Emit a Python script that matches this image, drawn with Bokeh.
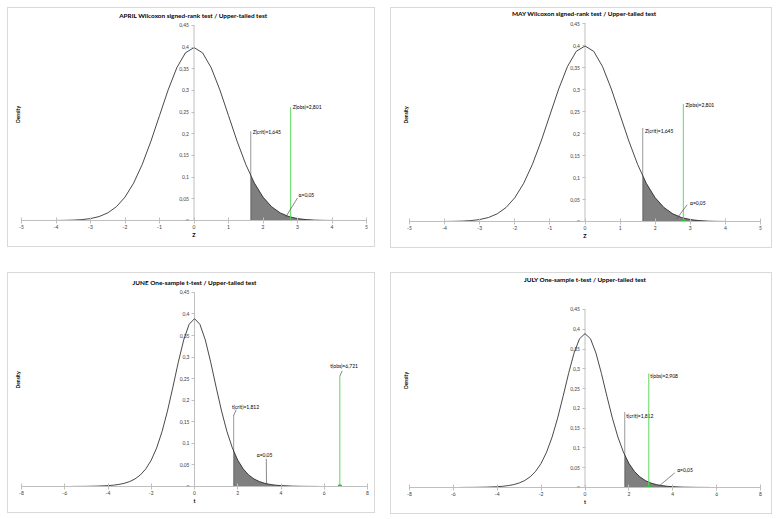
from bokeh.plotting import figure
from bokeh.layouts import row, column, Spacer
from bokeh.models import Range1d, FixedTicker, Title, Label, CustomJSTickFormatter
from bokeh.core.properties import value
from bokeh.embed import file_html
from bokeh.resources import INLINE

FONT = "Lato"

# standard normal density, read at 0.25 steps
z_x = [-4.0, -3.75, -3.5, -3.25, -3.0, -2.75, -2.5, -2.25, -2.0, -1.75, -1.5, -1.25, -1.0, -0.75, -0.5, -0.25,
       0.0, 0.25, 0.5, 0.75, 1.0, 1.25, 1.5, 1.75, 2.0, 2.25, 2.5, 2.75, 3.0, 3.25, 3.5, 3.75, 4.0]
z_y = [0.00013, 0.00035, 0.00087, 0.00203, 0.00443, 0.00909, 0.01753, 0.03174, 0.05399, 0.08628, 0.12952,
       0.18265, 0.24197, 0.30114, 0.35207, 0.38667,
       0.39894, 0.38667, 0.35207, 0.30114, 0.24197, 0.18265, 0.12952, 0.08628, 0.05399, 0.03174, 0.01753,
       0.00909, 0.00443, 0.00203, 0.00087, 0.00035, 0.00013]

# Student t density (10 df)
t_x = [-5.694, -5.5, -5.0, -4.5, -4.0, -3.75, -3.5, -3.25, -3.0, -2.75, -2.5, -2.25, -2.0, -1.75, -1.5, -1.25,
       -1.0, -0.75, -0.5, -0.25, 0.0, 0.25, 0.5, 0.75, 1.0, 1.25, 1.5, 1.75, 2.0, 2.25, 2.5, 2.75, 3.0, 3.25,
       3.5, 3.75, 4.0, 4.5, 5.0, 5.5, 5.694]
t_y = [0.000138, 0.000184, 0.000396, 0.000884, 0.002031, 0.003110, 0.004783, 0.007382, 0.01140, 0.01757,
       0.02694, 0.04089, 0.06114, 0.08953, 0.12745, 0.17510, 0.23036, 0.28798, 0.33970, 0.37600,
       0.38911, 0.37600, 0.33970, 0.28798, 0.23036, 0.17510, 0.12745, 0.08953, 0.06114, 0.04089, 0.02694,
       0.01757, 0.01140, 0.007382, 0.004783, 0.003110, 0.002031, 0.000884, 0.000396, 0.000184, 0.000138]

months = ["APRIL", "MAY", "JUNE", "JULY"]
tests = ["Wilcoxon signed-rank test / Upper-tailed test", "Wilcoxon signed-rank test / Upper-tailed test",
         "One-sample t-test / Upper-tailed test", "One-sample t-test / Upper-tailed test"]
stat_names = ["Z", "Z", "t", "t"]
crit_values = [1.645, 1.645, 1.812, 1.812]
crit_densities = [0.10314, 0.10314, 0.08164, 0.08164]
obs_values = [2.801, 2.801, 6.721, 2.908]
alpha = 0.05
z_ticks = [-5, -4, -3, -2, -1, 0, 1, 2, 3, 4, 5]
t_ticks = [-8, -6, -4, -2, 0, 2, 4, 6, 8]
y_ticks = [0, 0.05, 0.1, 0.15, 0.2, 0.25, 0.3, 0.35, 0.4, 0.45]
Y_TOP = 0.45      # top of the density axis

# layout of each panel (sizes, borders, frame extent, title offset, annotation placements)
layouts = [
    dict(w=368, h=240, L=13, R=10, B=27, y_end=0.4890, tt=10, sep="  ",
         crit_top=0.205, crit_conn=None, crit_lab=(1.70, 0.205, "left"),
         obs_top=0.261, obs_conn=None, obs_lab=(2.86, 0.262, "left"),
         a_lead=(2.65, 0.007, 3.0, 0.052), a_lab=(3.03, 0.058, "left")),
    dict(w=382, h=241, L=18, R=13, B=28, y_end=0.4841, tt=10, sep="  ",
         crit_top=0.212, crit_conn=None, crit_lab=(1.71, 0.206, "left"),
         obs_top=0.267, obs_conn=None, obs_lab=(2.86, 0.265, "left"),
         a_lead=(2.61, 0.006, 2.91, 0.038), a_lab=(2.99, 0.042, "left")),
    dict(w=368, h=241, L=13, R=9, B=27, y_end=0.4938, tt=10, sep=" ",
         crit_top=0.165, crit_conn=(1.93, 0.178), crit_lab=(2.36, 0.185, "center"),
         obs_top=0.256, obs_conn=(6.83, 0.268), obs_lab=(6.92, 0.279, "center"),
         a_lead=(3.33, 0.006, 3.32, 0.064), a_lab=(3.24, 0.072, "center")),
    dict(w=382, h=242, L=18, R=13, B=28, y_end=0.5410, tt=30, sep=" ",
         crit_top=0.192, crit_conn=None, crit_lab=(1.88, 0.180, "left"),
         obs_top=0.288, obs_conn=None, obs_lab=(2.98, 0.283, "left"),
         a_lead=(3.36, 0.003, 4.09, 0.037), a_lab=(4.2, 0.045, "left")),
]

AXIS_GREY = "#bfbfbf"
LABEL_GREY = "#404040"
GREEN = "#5fd85f"
SHADE = "#7f7f7f"


def fmt(v, nd=3):
    return f"{v:.{nd}f}".replace(".", ",")


def make_panel(i):
    lay = layouts[i]
    is_z = stat_names[i] == "Z"
    xs = z_x if is_z else t_x
    ys = z_y if is_z else t_y
    xt = z_ticks if is_z else t_ticks
    crit = crit_values[i]
    crit_d = crit_densities[i]
    obs = obs_values[i]
    name = stat_names[i]

    p = figure(width=lay["w"], height=lay["h"], x_range=Range1d(xt[0], xt[-1]),
               y_range=Range1d(0, lay["y_end"]),
               output_backend="svg", toolbar_location=None, title_location=None,
               min_border_left=lay["L"], min_border_right=lay["R"],
               min_border_top=0, min_border_bottom=lay["B"],
               background_fill_color="white", border_fill_color="white",
               styles={"border": "1px solid #d9d9d9", "box-sizing": "border-box"})
    p.outline_line_color = None
    p.xgrid.visible = False
    p.ygrid.visible = False

    # chart title, above the top of the density axis
    p.add_layout(Label(x=(xt[0] + xt[-1]) / 2, y=Y_TOP, y_offset=lay["tt"],
                       text=f"{months[i]}{lay['sep']}{tests[i]}", text_align="center", text_baseline="middle",
                       text_font=FONT, text_font_size="6.4px", text_font_style="bold", text_color="black"))
    p.add_layout(Title(text="Density", align="center", text_font=FONT, text_font_size="5px",
                       text_font_style="bold", text_color="black", standoff=1), "left")

    # x axis
    xa = p.xaxis[0]
    xa.ticker = FixedTicker(ticks=xt)
    xa.formatter = CustomJSTickFormatter(code="return tick.toFixed(0)")
    xa.axis_line_color = AXIS_GREY
    xa.major_tick_line_color = AXIS_GREY
    xa.major_tick_in = 3
    xa.major_tick_out = 3
    xa.minor_tick_line_color = None
    xa.major_label_text_font = FONT
    xa.major_label_text_font_size = "5px"
    xa.major_label_text_color = LABEL_GREY
    xa.major_label_standoff = 1
    xa.axis_label = name
    xa.axis_label_text_font = FONT
    xa.axis_label_text_font_size = "5.5px"
    xa.axis_label_text_font_style = "bold"
    xa.axis_label_text_color = "black"
    xa.axis_label_standoff = 0

    # y axis crossing at x = 0
    ya = p.yaxis[0]
    ya.fixed_location = 0
    ya.ticker = FixedTicker(ticks=y_ticks)
    ya.formatter = CustomJSTickFormatter(
        code="return tick.toFixed(2).replace(/0+$/,'').replace(/\\.$/,'').replace('.', ',')")
    ya.axis_line_color = None
    ya.major_tick_line_color = AXIS_GREY
    ya.major_tick_in = 0
    ya.major_tick_out = 3
    ya.minor_tick_line_color = None
    ya.major_label_text_font = FONT
    ya.major_label_text_font_size = "5px"
    ya.major_label_text_color = LABEL_GREY
    ya.major_label_standoff = 2
    p.segment([0], [0], [0], [Y_TOP], line_color=AXIS_GREY, line_width=1)

    # shaded rejection area
    sx = [crit] + [x for x in xs if x > crit]
    sy = [crit_d] + [y for x, y in zip(xs, ys) if x > crit]
    p.patch(sx + [sx[-1], crit], sy + [0, 0], fill_color=SHADE, line_color=None)

    # density curve
    p.line(xs, ys, line_color="#1a1a1a", line_width=0.8)

    # critical value
    p.segment([crit], [0], [crit], [lay["crit_top"]], line_color="black", line_width=0.8, line_dash="1 1")
    if lay["crit_conn"]:
        p.segment([crit], [lay["crit_top"]], [lay["crit_conn"][0]], [lay["crit_conn"][1]],
                  line_color="#555555", line_width=0.7)
    cx, cy, ca = lay["crit_lab"]
    p.text([cx], [cy], text=[f"{name}(crit)={fmt(crit)}"], text_font=value(FONT), text_font_size="5px",
           text_align=ca, text_baseline="middle", text_color="black")

    # observed value
    p.segment([obs], [0], [obs], [lay["obs_top"]], line_color=GREEN, line_width=1.0)
    if lay["obs_conn"]:
        p.segment([obs], [lay["obs_top"]], [lay["obs_conn"][0]], [lay["obs_conn"][1]],
                  line_color="#555555", line_width=0.7)
    ox, oy, oa = lay["obs_lab"]
    p.text([ox], [oy], text=[f"{name}(obs)={fmt(obs)}"], text_font=value(FONT), text_font_size="5px",
           text_align=oa, text_baseline="middle", text_color="black")
    p.scatter([obs], [0], marker="square", size=3, fill_color="#22cc22", line_color="#22cc22")

    # alpha label
    a = lay["a_lead"]
    p.segment([a[0]], [a[1]], [a[2]], [a[3]], line_color="#555555", line_width=0.7)
    ax_, ay_, aa = lay["a_lab"]
    p.text([ax_], [ay_], text=[f"\u03b1={fmt(alpha, 2)}"], text_font=value(FONT), text_font_size="5px",
           text_align=aa, text_baseline="middle", text_color="black")
    return p


panels = [make_panel(i) for i in range(4)]
top_row = row(Spacer(width=7), panels[0], Spacer(width=15), panels[1], spacing=0)
bottom_row = row(Spacer(width=7), panels[2], Spacer(width=15), panels[3], spacing=0)
layout = column(Spacer(height=7), top_row, Spacer(height=24), bottom_row, spacing=0)

open("out.html", "w").write(file_html(layout, INLINE))
